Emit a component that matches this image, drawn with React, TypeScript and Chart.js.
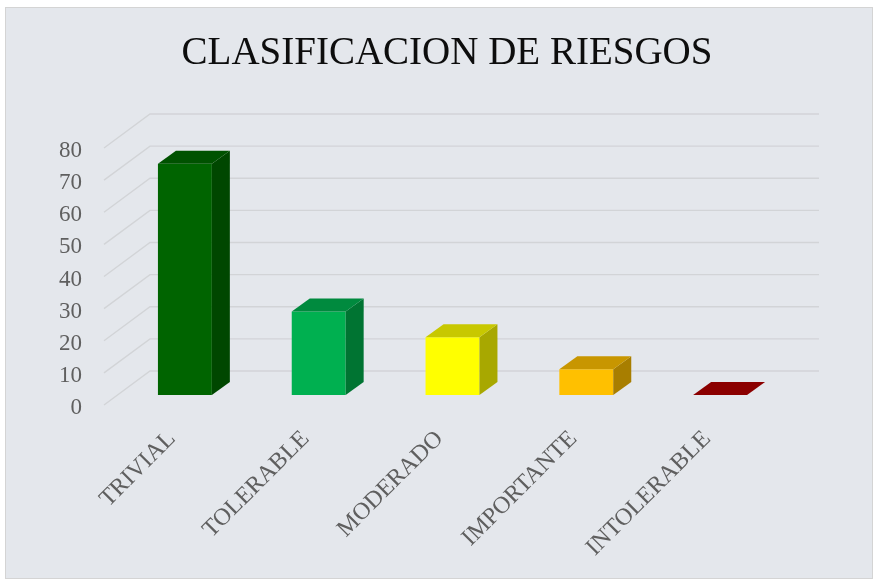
import React, { useEffect, useRef } from 'react';
import { Chart, registerables } from 'chart.js';

Chart.register(...registerables);

const categories = ['TRIVIAL', 'TOLERABLE', 'MODERADO', 'IMPORTANTE', 'INTOLERABLE'];
const values = [72, 26, 18, 8, 0];
const yTicks = [0, 10, 20, 30, 40, 50, 60, 70, 80];
const frontColors = ['#006400', '#00B050', '#FFFF00', '#FFC000', '#8B0000'];
const topColors = ['#005200', '#008A3E', '#C8C800', '#C89600', '#8B0000'];
const sideColors = ['#004700', '#007432', '#A8A800', '#A87E00', '#6A0000'];
const titleText = 'CLASIFICACION DE RIESGOS';

const DEPTH_X = 18;
const DEPTH_Y = 13;

const depthPlugin = {
  id: 'depth3d',
  beforeDatasetsDraw(chart: any) {
    const { ctx, chartArea, scales } = chart;
    const y = scales.y;
    ctx.save();
    ctx.strokeStyle = '#D2D4D7';
    ctx.lineWidth = 1.4;
    for (const v of yTicks) {
      const yb = y.getPixelForValue(v);
      ctx.beginPath();
      ctx.moveTo(chartArea.left - 14, yb + 10);
      ctx.lineTo(chartArea.left + 32, yb - 24);
      ctx.lineTo(chartArea.right + 32, yb - 24);
      ctx.stroke();
    }
    ctx.restore();
  },
  afterDatasetsDraw(chart: any) {
    const { ctx } = chart;
    const meta = chart.getDatasetMeta(0);
    ctx.save();
    meta.data.forEach((bar: any, i: number) => {
      const p = bar.getProps(['x', 'y', 'base', 'width'], true);
      const xl = p.x - p.width / 2;
      const xr = p.x + p.width / 2;
      const yt = Math.min(p.y, p.base);
      const yb = Math.max(p.y, p.base);
      if (yb - yt > 0.5) {
        ctx.fillStyle = sideColors[i];
        ctx.beginPath();
        ctx.moveTo(xr, yt);
        ctx.lineTo(xr + DEPTH_X, yt - DEPTH_Y);
        ctx.lineTo(xr + DEPTH_X, yb - DEPTH_Y);
        ctx.lineTo(xr, yb);
        ctx.closePath();
        ctx.fill();
      }
      ctx.fillStyle = topColors[i];
      ctx.beginPath();
      ctx.moveTo(xl, yt);
      ctx.lineTo(xl + DEPTH_X, yt - DEPTH_Y);
      ctx.lineTo(xr + DEPTH_X, yt - DEPTH_Y);
      ctx.lineTo(xr, yt);
      ctx.closePath();
      ctx.fill();
    });
    ctx.restore();
  },
  afterDraw(chart: any) {
    const { ctx } = chart;
    ctx.save();
    ctx.fillStyle = '#0D0D0D';
    ctx.font = 'normal 39px "Liberation Serif"';
    ctx.textAlign = 'center';
    ctx.textBaseline = 'alphabetic';
    ctx.fillText(titleText, 441, 56);
    ctx.restore();
  },
};

export default function App() {
  const canvasRef = useRef<HTMLCanvasElement | null>(null);

  useEffect(() => {
    const canvas = canvasRef.current;
    if (!canvas) return;
    const chart = new Chart(canvas, {
      type: 'bar',
      data: {
        labels: categories,
        datasets: [
          {
            data: values,
            backgroundColor: frontColors,
            borderWidth: 0,
            barPercentage: 0.403,
            categoryPercentage: 1,
          },
        ],
      },
      options: {
        animation: false,
        responsive: false,
        devicePixelRatio: 1,
        layout: { padding: { left: 0, right: 85, top: 130, bottom: 0 } },
        plugins: {
          legend: { display: false },
          tooltip: { enabled: false },
          title: { display: false },
        },
        scales: {
          x: {
            grid: { display: false, drawTicks: false },
            border: { display: false },
            ticks: {
              color: '#5F5F5F',
              font: { family: 'Liberation Serif', size: 24 },
              minRotation: 45,
              maxRotation: 45,
              padding: 30,
              labelOffset: -13,
              autoSkip: false,
            },
            afterFit(scale: any) {
              scale.height = 183;
            },
          },
          y: {
            min: 0,
            max: 80,
            grid: { display: false, drawTicks: false },
            border: { display: false },
            ticks: {
              stepSize: 10,
              color: '#5F5F5F',
              font: { family: 'Liberation Serif', size: 23 },
              padding: 36,
              labelOffset: 13,
            },
            afterFit(scale: any) {
              scale.width = 112;
            },
          },
        },
      },
      plugins: [depthPlugin],
    });
    return () => chart.destroy();
  }, []);

  return (
    <div
      style={{
        position: 'absolute',
        left: 5,
        top: 7,
        width: 866,
        height: 570,
        background: '#E4E7EC',
        border: '1px solid #D4D4D4',
      }}
    >
      <canvas ref={canvasRef} width={866} height={570} style={{ display: 'block' }} />
    </div>
  );
}
